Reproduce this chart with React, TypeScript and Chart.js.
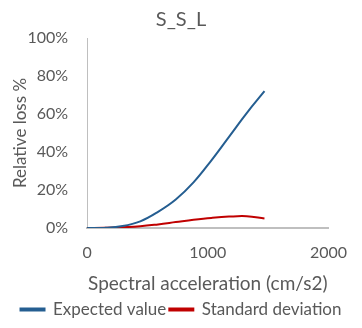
import React, { useEffect, useRef } from "react";
import { Chart, registerables } from "chart.js";

Chart.register(...registerables);

const xValues = [0, 147, 294, 441, 588, 735, 882, 1029, 1176, 1323, 1470];
const expectedValue = [0, 0.1, 1.0, 3.5, 8.5, 15, 24, 35.5, 48, 60.5, 72];
const standardDeviation = [0, 0.1, 0.4, 0.9, 1.9, 3.1, 4.3, 5.3, 6.0, 6.2, 5.0];
const xTicks = [0, 1000, 2000];
const chartTitle = "S_S_L";
const xTitle = "Spectral acceleration (cm/s2)";
const yTitle = "Relative loss %";
const seriesNames = ["Expected value", "Standard deviation"];

const FONT = "Lato, 'Open Sans', sans-serif";
const GREY = "#595959";

export default function App() {
  const ref = useRef<HTMLCanvasElement | null>(null);
  useEffect(() => {
    if (!ref.current) return;
    const toPts = (ys: number[]) => xValues.map((x, i) => ({ x, y: ys[i] }));
    const chart = new Chart(ref.current, {
      type: "line",
      data: {
        datasets: [
          {
            label: seriesNames[0],
            data: toPts(expectedValue),
            borderColor: "#255E91",
            backgroundColor: "#255E91",
            borderWidth: 2,
            pointRadius: 0,
            tension: 0.4,
          },
          {
            label: seriesNames[1],
            data: toPts(standardDeviation),
            borderColor: "#C00000",
            backgroundColor: "#C00000",
            borderWidth: 2,
            pointRadius: 0,
            tension: 0.4,
          },
        ],
      },
      options: {
        animation: false,
        responsive: true,
        maintainAspectRatio: false,
        layout: { padding: { left: 0, right: 0, top: 2, bottom: 0 } },
        plugins: {
          title: {
            display: true,
            text: chartTitle,
            color: GREY,
            font: { family: FONT, size: 20, weight: "normal" },
            padding: { top: 6, bottom: 6 },
          },
          legend: {
            position: "bottom",
            labels: {
              color: GREY,
              font: { family: FONT, size: 17 },
              boxWidth: 24,
              boxHeight: 2,
              padding: 3,
            },
          },
          tooltip: { enabled: false },
        },
        scales: {
          x: {
            type: "linear",
            min: 0,
            max: 2000,
            afterBuildTicks: (axis: any) => {
              axis.ticks = xTicks.map((v) => ({ value: v }));
            },
            ticks: {
              color: GREY,
              font: { family: FONT, size: 16 },
              padding: 15,
              maxRotation: 0,
              callback: (v: any) => String(v),
            },
            grid: { display: false, drawTicks: false },
            border: { display: true, color: "#BFBFBF", width: 2 },
            title: {
              display: true,
              text: xTitle,
              color: GREY,
              font: { family: FONT, size: 19 },
              padding: { top: -5, bottom: 3 },
            },
          },
          y: {
            min: 0,
            max: 100,
            ticks: {
              stepSize: 20,
              color: GREY,
              font: { family: FONT, size: 16 },
              padding: 19,
              callback: (v: any) => v + "%",
            },
            grid: { display: false, drawTicks: false },
            border: { display: true, color: "#BFBFBF", width: 1 },
            title: {
              display: true,
              text: yTitle,
              color: GREY,
              font: { family: FONT, size: 17 },
              padding: { top: 10, bottom: -22 },
            },
          },
        },
      },
    });
    return () => chart.destroy();
  }, []);
  return (
    <div style={{ margin: -8, width: 362, height: 328, position: "relative", background: "#fff" }}>
      <canvas ref={ref} />
    </div>
  );
}
